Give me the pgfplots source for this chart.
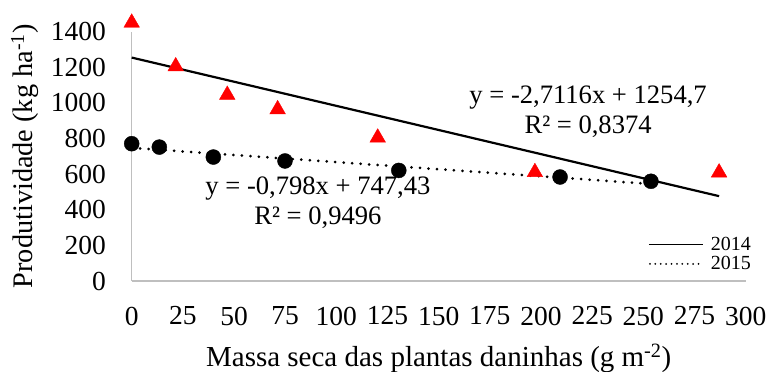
\documentclass[border=0pt]{standalone}
\usepackage{pgfplots}
\pgfplotsset{compat=1.18}
\usepackage{fontspec}
\setmainfont{Liberation Serif}
\begin{document}
\begin{tikzpicture}
\useasboundingbox (-131.7bp,-91bp) rectangle (638.3bp,281bp);
\begin{axis}[
 at={(0,0)}, anchor=south west,
 scale only axis, width=614bp, height=249.3bp,
 xmin=0, xmax=300, ymin=0, ymax=1400,
 clip=false,
 axis x line*=bottom, axis y line*=left,
 axis line style={draw=black!25, line width=1.3bp},
 xtick={0,25,...,300}, ytick={0,200,...,1400},
 major tick length=0pt,
 /pgf/number format/1000 sep={},
 /pgf/number format/assume math mode=true,
 xticklabel={\pgfmathprintnumber{\tick}},
 yticklabel={\pgfmathprintnumber{\tick}},
 tick label style={font=\fontsize{27.5bp}{30bp}\selectfont\rmfamily, inner sep=0pt},
 xticklabel style={anchor=center, yshift=-35bp},
 yticklabel style={anchor=east, xshift=-25.7bp},
 legend style={at={(axis description cs:0.841,0.1765)}, anchor=north west, draw=none, fill=none,
   font=\fontsize{20bp}{20bp}\selectfont, row sep=4.5bp, column sep=7bp, inner sep=0pt, nodes={inner sep=0pt}},
 legend cell align=left,
]
\addplot[black, line width=2.2bp,
  legend image code/.code={\draw[black, line width=1.3bp] (0bp,0bp) -- (54bp,0bp);}]
  coordinates {(0,1254.7) (287,476.5)};
\addlegendentry{2014}
\addplot[black, line width=3bp, line cap=round, dash pattern=on 0bp off 8.5bp,
  legend image code/.code={\draw[black, line width=2bp, line cap=round, dash pattern=on 0bp off 5.4bp] (1bp,0bp) -- (54bp,0bp);}]
  coordinates {(0,747.43) (254,544.7)};
\addlegendentry{2015}
\addplot[only marks, mark=triangle*, mark size=9bp, color=red, forget plot]
  coordinates {(0,1450) (21.5,1205) (46.7,1045) (71.3,964) (120.2,805) (197,611) (287,609)};
\addplot[only marks, mark=*, mark size=7.5bp, black, forget plot]
  coordinates {(0,771) (13.5,752) (39.9,696) (74.9,674) (130.5,621) (209.3,584) (253.7,560)};
\node[align=center, font=\fontsize{26.6bp}{30bp}\selectfont] at (axis cs:91,437) {y = -0,798x + 747,43\\R² = 0,9496};
\node[align=center, font=\fontsize{26.6bp}{30bp}\selectfont] at (axis cs:223,950) {y = -2,7116x + 1254,7\\R² = 0,8374};
\end{axis}
\node[rotate=90, anchor=base, font=\fontsize{28.3bp}{30bp}\selectfont] at (-98.7bp,124.6bp) {Produtividade (kg ha\textsuperscript{-1})};
\node[anchor=base, font=\fontsize{29bp}{30bp}\selectfont] at (307bp,-85.7bp) {Massa seca das plantas daninhas (g m\textsuperscript{-2})};
\end{tikzpicture}
\end{document}
